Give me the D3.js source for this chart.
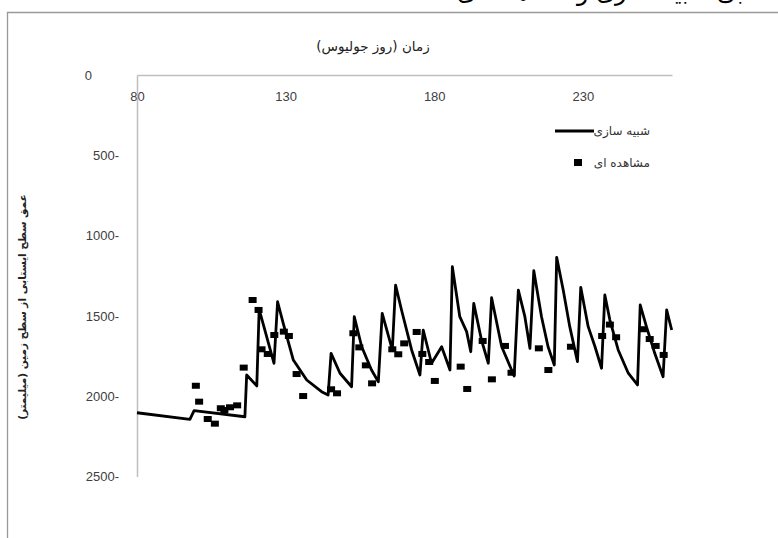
<!DOCTYPE html>
<html>
<head>
<meta charset="utf-8">
<script src="https://cdn.jsdelivr.net/npm/d3@7/dist/d3.min.js"></script>
<style>
  html, body { margin: 0; padding: 0; background: #fff; }
  svg { display: block; }
</style>
</head>
<body>
<svg id="chart" width="778" height="538"></svg>
<script>
// Simulated water-table depth (mm below ground) against Julian day
const simDays = [80, 97.8, 99.2, 116.3, 116.9, 120.3, 121.1, 126.1, 127.3, 129.2, 132.6, 137.1, 142.1, 144.3,
  145.3, 148.3, 152.2, 153.1, 155.6, 158.9, 161.2, 162.5, 165.9, 167.0, 169.0, 172.4, 175.2, 176.3,
  179.1, 182.5, 185.3, 186.1, 188.6, 190.9, 192.3, 193.3, 195.9, 198.2, 199.3, 202.7, 206.9, 208.3,
  210.5, 212.2, 213.5, 216.1, 218.3, 220.4, 221.2, 223.4, 225.6, 228.2, 229.3, 231.8, 234.1, 236.3,
  237.4, 239.1, 241.9, 245.3, 248.4, 249.3, 251.4, 254.2, 257.0, 258.2, 259.9];
const simDepth = [2103, 2144, 2090, 2128, 1868, 1936, 1459, 1795, 1412, 1546, 1775, 1899, 1972, 1993,
  1733, 1857, 1941, 1505, 1692, 1837, 1910, 1484, 1712, 1308, 1463, 1712, 1868, 1588,
  1795, 1692, 1837, 1194, 1505, 1598, 1723, 1422, 1650, 1795, 1387, 1692, 1874, 1339,
  1505, 1702, 1219, 1505, 1692, 1806, 1135, 1339, 1567, 1785, 1322, 1567, 1692, 1826,
  1370, 1526, 1712, 1857, 1930, 1432, 1567, 1733, 1879, 1463, 1588];

// Observed water-table depth
const obsDays = [99.8, 100.9, 103.8, 106.2, 108.2, 109.4, 111.3, 113.7, 115.9, 118.9, 120.9, 121.9,
  124.0, 126.2, 129.4, 131.1, 133.7, 135.9, 145.3, 147.3, 152.8, 154.8, 157.0, 159.1, 165.9, 167.9,
  169.9, 174.1, 176.0, 178.3, 180.2, 188.9, 191.1, 196.3, 199.4, 203.8, 206.0, 215.2, 218.4, 226.0,
  236.5, 239.1, 241.2, 250.3, 252.5, 254.5, 257.2];
const obsDepth = [1935, 2034, 2142, 2171, 2075, 2086, 2069, 2057, 1822, 1401, 1463, 1708,
  1737, 1619, 1598, 1625, 1862, 1999, 1957, 1982, 1608, 1696, 1808, 1920, 1708, 1739,
  1671, 1600, 1737, 1787, 1905, 1816, 1955, 1656, 1895, 1687, 1854, 1702, 1837, 1692,
  1625, 1554, 1633, 1583, 1644, 1687, 1743];

const xTicks = [80, 130, 180, 230];
const yTicks = [0, 500, 1000, 1500, 2000, 2500];

const captionText = "مقایسه عمق سطح ایستابی شبیه سازی و مشاهده ای";
const xTitle = "زمان (روز جولیوس)";
const yTitle = "عمق سطح ایستابی از سطح زمین (میلیمتر)";
const legendSim = "شبیه سازی";
const legendObs = "مشاهده ای";

const svg = d3.select("#chart");
const arabicFont = "'DejaVu Sans', sans-serif";
const numFont = "'Liberation Sans', Arial, sans-serif";

const x = d3.scaleLinear().domain([80, 260]).range([137, 672]);
const y = d3.scaleLinear().domain([0, 2500]).range([75, 476.5]);

// caption running off the top edge; only its lower strokes are on the page
svg.append("text")
  .attr("x", 457).attr("y", 0)
  .attr("text-anchor", "start")
  .style("font-family", arabicFont)
  .style("font-size", "24px")
  .attr("fill", "#000")
  .text(captionText);

// chart frame
svg.append("path")
  .attr("d", "M7.5,540V12.5H780")
  .attr("fill", "none")
  .attr("stroke", "#9a9a9a")
  .attr("stroke-width", 1.3);

// x axis along depth 0, labels below the line
const xAxis = svg.append("g")
  .attr("transform", `translate(0,${y(0)})`)
  .call(d3.axisBottom(x).tickValues(xTicks).tickSize(0).tickSizeOuter(0).tickPadding(17));
xAxis.select(".domain").attr("stroke", "#bfbfbf").attr("stroke-width", 1.5);
xAxis.selectAll("text")
  .style("font-family", numFont).style("font-size", "13px").attr("fill", "#404040");

// y axis, depths shown with trailing minus sign
const yAxis = svg.append("g")
  .attr("transform", `translate(${x(80)},0)`)
  .call(d3.axisLeft(y).tickValues(yTicks).tickSize(0).tickSizeOuter(0).tickPadding(18)
    .tickFormat(d => d === 0 ? "0" : d + "-"));
yAxis.select(".domain").attr("stroke", "#bfbfbf").attr("stroke-width", 1.5);
yAxis.selectAll("text")
  .style("font-family", numFont).style("font-size", "13px").attr("fill", "#404040")
  .attr("dx", d => d === 0 ? -27 : 0);

// axis titles
svg.append("text")
  .attr("x", 373).attr("y", 51)
  .attr("text-anchor", "middle")
  .style("font-family", arabicFont).style("font-size", "13.5px")
  .attr("fill", "#222")
  .text(xTitle);

svg.append("text")
  .attr("transform", "translate(26,307) rotate(-90)")
  .attr("text-anchor", "middle")
  .style("font-family", arabicFont).style("font-size", "10.5px")
  .style("font-weight", "bold")
  .attr("fill", "#222")
  .text(yTitle);

// simulated series
const simData = simDays.map((d, i) => [d, simDepth[i]]);
svg.append("path")
  .datum(simData)
  .attr("fill", "none")
  .attr("stroke", "#000")
  .attr("stroke-width", 2.8)
  .attr("stroke-linejoin", "round")
  .attr("d", d3.line().x(d => x(d[0])).y(d => y(d[1])));

// observed series
const obsData = obsDays.map((d, i) => [d, obsDepth[i]]);
svg.append("g").selectAll("rect")
  .data(obsData)
  .join("rect")
  .attr("x", d => x(d[0]) - 4)
  .attr("y", d => y(d[1]) - 3)
  .attr("width", 8).attr("height", 6)
  .attr("fill", "#000");

// legend
const legend = svg.append("g");
legend.append("line")
  .attr("x1", 555).attr("x2", 594).attr("y1", 131).attr("y2", 131)
  .attr("stroke", "#000").attr("stroke-width", 2.8);
legend.append("text")
  .attr("x", 650).attr("y", 135)
  .attr("text-anchor", "end")
  .style("font-family", arabicFont).style("font-size", "12px").attr("fill", "#333")
  .text(legendSim);
legend.append("rect")
  .attr("x", 574).attr("y", 159).attr("width", 8).attr("height", 7)
  .attr("fill", "#000");
legend.append("text")
  .attr("x", 650).attr("y", 167)
  .attr("text-anchor", "end")
  .style("font-family", arabicFont).style("font-size", "12px").attr("fill", "#333")
  .text(legendObs);
</script>
</body>
</html>
